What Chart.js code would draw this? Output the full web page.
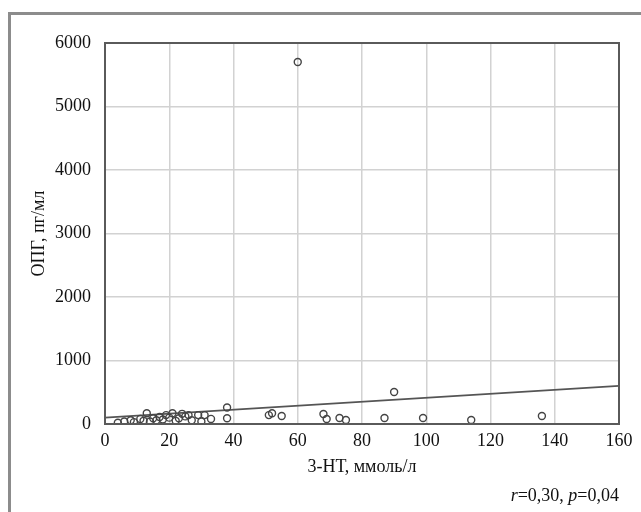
<!DOCTYPE html>
<html lang="ru">
<head>
  <meta charset="UTF-8">
  <title>ОПГ и 3-НТ</title>
  <style>
    body {
      margin: 0;
      padding: 0;
      background: #fff;
      overflow: hidden;
    }
    .wrap {
      position: relative;
      width: 641px;
      height: 512px;
    }
    .frame {
      position: absolute;
      left: 8px;
      top: 12px;
      width: 700px;
      height: 600px;
      border: 3px solid #8c8c8c;
    }
    #chart {
      position: absolute;
      left: 0;
      top: 0;
    }
  </style>
</head>
<body>
  <div class="wrap">
    <div class="frame"></div>
    <canvas id="chart" width="641" height="512"></canvas>
  </div>

  <script src="https://cdn.jsdelivr.net/npm/chart.js"></script>
  <script>
    // 3-НТ (ммоль/л) и ОПГ (пг/мл)
    const ntValues  = [4, 6, 8, 9, 11, 12, 13, 14, 15, 16, 17, 18, 19, 20, 21, 22, 23, 24, 25, 26, 27, 29, 30, 31, 33, 38, 38, 51, 52, 55, 60, 68, 69, 73, 75, 87, 90, 99, 114, 136];
    const opgValues = [20, 40, 60, 30, 80, 50, 170, 40, 90, 60, 110, 70, 140, 100, 170, 50, 90, 160, 120, 140, 60, 140, 40, 140, 80, 260, 90, 140, 170, 126, 5700, 157, 79, 94, 63, 94, 504, 94, 63, 126];

    // линия регрессии (концы)
    const fitX = [0, 160];
    const fitY = [100, 600];

    const xTicks = [0, 20, 40, 60, 80, 100, 120, 140, 160];
    const yTicks = [0, 1000, 2000, 3000, 4000, 5000, 6000];

    const serif = "'Liberation Serif', 'DejaVu Serif', serif";

    // рамка вокруг области графика и подпись r, p
    const framePlugin = {
      id: 'framePlugin',
      afterDraw(chart) {
        const { ctx, chartArea } = chart;
        ctx.save();
        ctx.strokeStyle = '#5a5a5a';
        ctx.lineWidth = 2;
        ctx.strokeRect(chartArea.left, chartArea.top,
          chartArea.right - chartArea.left, chartArea.bottom - chartArea.top);

        // r=0,30, p=0,04
        const parts = [
          { t: 'r', italic: true },
          { t: '=0,30, ', italic: false },
          { t: 'p', italic: true },
          { t: '=0,04', italic: false }
        ];
        let total = 0;
        parts.forEach(p => {
          ctx.font = (p.italic ? 'italic ' : '') + '18px ' + serif;
          p.w = ctx.measureText(p.t).width;
          total += p.w;
        });
        let x = chartArea.right - total;
        ctx.fillStyle = '#111';
        ctx.textBaseline = 'alphabetic';
        parts.forEach(p => {
          ctx.font = (p.italic ? 'italic ' : '') + '18px ' + serif;
          ctx.fillText(p.t, x, 501);
          x += p.w;
        });
        ctx.restore();
      }
    };

    new Chart(document.getElementById('chart'), {
      type: 'scatter',
      data: {
        datasets: [
          {
            label: 'ОПГ',
            data: ntValues.map((v, i) => ({ x: v, y: opgValues[i] })),
            pointStyle: 'circle',
            pointRadius: 3.5,
            pointBorderWidth: 1.4,
            pointBorderColor: '#444',
            pointBackgroundColor: 'rgba(255,255,255,0)',
            showLine: false
          },
          {
            label: 'регрессия',
            data: fitX.map((v, i) => ({ x: v, y: fitY[i] })),
            showLine: true,
            borderColor: '#555',
            borderWidth: 1.6,
            pointRadius: 0,
            fill: false
          }
        ]
      },
      options: {
        responsive: false,
        animation: false,
        layout: {
          padding: { left: 28, right: 22, top: 43, bottom: 34 }
        },
        plugins: {
          legend: { display: false },
          tooltip: { enabled: false }
        },
        scales: {
          x: {
            type: 'linear',
            min: 0,
            max: 160,
            afterBuildTicks: axis => { axis.ticks = xTicks.map(v => ({ value: v })); },
            afterFit: axis => { axis.height = 54; },
            grid: { color: '#d2d2d2', lineWidth: 1.5, drawTicks: false },
            border: { display: false },
            ticks: {
              padding: 6,
              color: '#111',
              font: { family: serif, size: 18 },
              maxRotation: 0,
              callback: v => String(v)
            },
            title: {
              display: true,
              text: '3-НТ, ммоль/л',
              color: '#111',
              font: { family: serif, size: 18 },
              padding: 0
            }
          },
          y: {
            type: 'linear',
            min: 0,
            max: 6000,
            afterBuildTicks: axis => { axis.ticks = yTicks.map(v => ({ value: v })); },
            afterFit: axis => { axis.width = 77; },
            grid: { color: '#d2d2d2', lineWidth: 1.5, drawTicks: false },
            border: { display: false },
            ticks: {
              padding: 14,
              color: '#111',
              font: { family: serif, size: 18 },
              callback: v => String(v)
            },
            title: {
              display: true,
              text: 'ОПГ, пг/мл',
              color: '#111',
              font: { family: serif, size: 18 },
              padding: 0
            }
          }
        }
      },
      plugins: [framePlugin]
    });
  </script>
</body>
</html>
